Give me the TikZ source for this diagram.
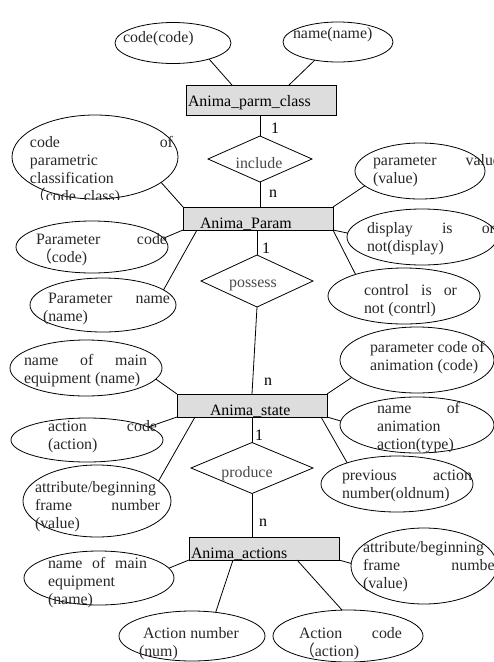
\documentclass[tikz,border=0pt]{standalone}
\usepackage{fontspec}
\setmainfont{Liberation Serif}
\newfontfamily\cjk{Noto Sans CJK SC}
\usetikzlibrary{shapes.geometric,calc}
\definecolor{boxgray}{RGB}{221,221,221}
\definecolor{txtgray}{RGB}{40,40,40}
\newcommand{\lns}[2]{\parbox[t]{#1pt}{#2}}
\begin{document}
\begin{tikzpicture}[x=1pt,y=-1pt,
  every node/.style={inner sep=0pt, outer sep=0pt},
  ell/.style={draw, ellipse, line width=0.8pt},
  ent/.style={draw, fill=boxgray, rectangle, line width=0.9pt, minimum width=150pt},
  rel/.style={draw, diamond, line width=0.8pt},
  txt/.style={anchor=base west, font=\fontsize{15.9pt}{18.3pt}\selectfont, text=txtgray},
  rtxt/.style={anchor=base, font=\fontsize{15.9pt}{18.3pt}\selectfont, text=txtgray!85},
  etxt/.style={anchor=base west, font=\fontsize{15.9pt}{18.3pt}\selectfont, text=black},
  card/.style={font=\fontsize{15.9pt}{18.3pt}\selectfont, text=black},
  conn/.style={line width=0.8pt}]
\useasboundingbox (0,0) rectangle (494,662);

% entities
\node[ent, minimum height=30pt] (b1) at (261,100) {};
\node[ent, minimum height=23pt] (b2) at (258,218.5) {};
\node[ent, minimum height=23pt] (b3) at (252,405.5) {};
\node[ent, minimum height=23pt] (b4) at (264,548.5) {};

% relationships
\node[rel, minimum width=104pt, minimum height=46pt] (d1) at (260,159) {};
\node[rel, minimum width=112pt, minimum height=52pt] (d2) at (257,281) {};
\node[rel, minimum width=122pt, minimum height=51pt] (d3) at (252,468) {};

% attributes
\node[ell, minimum width=116pt, minimum height=41pt] (e1) at (173,43) {};
\node[ell, minimum width=110pt, minimum height=40pt] (e2) at (338,42) {};
\node[ell, minimum width=166pt, minimum height=84pt] (e3) at (95,157) {};
\node[ell, minimum width=130pt, minimum height=56pt] (e4) at (420,171) {};
\node[ell, minimum width=152pt, minimum height=52pt] (e5) at (92,247) {};
\node[ell, minimum width=146pt, minimum height=54pt] (e6) at (103,305) {};
\node[ell, minimum width=150pt, minimum height=56pt] (e7) at (422,237) {};
\node[ell, minimum width=152pt, minimum height=56pt] (e8) at (404,296) {};
\node[ell, minimum width=152pt, minimum height=56pt] (e9) at (86,368) {};
\node[ell, minimum width=154pt, minimum height=66pt] (e10) at (417,360) {};
\node[ell, minimum width=152pt, minimum height=44pt] (e11) at (87,440) {};
\node[ell, minimum width=148pt, minimum height=72pt] (e12) at (97,501) {};
\node[ell, minimum width=154pt, minimum height=56pt] (e13) at (417,425) {};
\node[ell, minimum width=152pt, minimum height=56pt] (e14) at (397,484) {};
\node[ell, minimum width=150pt, minimum height=54pt] (e15) at (99,578) {};
\node[ell, minimum width=146pt, minimum height=76pt] (e16) at (424,566) {};
\node[ell, minimum width=146pt, minimum height=50pt] (e17) at (192,636) {};
\node[ell, minimum width=150pt, minimum height=52pt] (e18) at (348,636) {};

% connectors
\draw[conn] (e1.-24) -- ($(b1.north)+(-29,0)$);
\draw[conn] (e2.-142) -- ($(b1.north)+(28,0)$);
\draw[conn] (d1.north) -- (d1.north |- b1.south);
\draw[conn] (d1.south) -- (d1.south |- b2.north);
\draw[conn] (e3.-21) -- (b2.north west);
\draw[conn] (e4.-165) -- (b2.north east);
\draw[conn] (e5.7) -- (b2.south west);
\draw[conn] (e6.14) -- ($(b2.south west)+(14,0)$);
\draw[conn] (e7.177) -- (b2.south east);
\draw[conn] (e8.156) -- (b2.south east);
\draw[conn] (d2.north) -- (d2.north |- b2.south);
\draw[conn] (d2.south) -- (b3.north);
\draw[conn] (e9.-9) -- (b3.north west);
\draw[conn] (e10.-165) -- (b3.north east);
\draw[conn] (e11.12) -- (b3.south west);
\draw[conn] (e12.18) -- ($(b3.south west)+(18,0)$);
\draw[conn] (e13.177) -- (b3.south east);
\draw[conn] (e14.157) -- ($(b3.south east)+(-6,0)$);
\draw[conn] (d3.north) -- (d3.north |- b3.south);
\draw[conn] (d3.south) -- (d3.south |- b4.north);
\draw[conn] (e15.8) -- (b4.south west);
\draw[conn] (e16.178) -- (b4.south east);
\draw[conn] (e17.45) -- ($(b4.south west)+(44,0)$);
\draw[conn] (e18.103) -- ($(b4.south west)+(108,0)$);

% entity texts
\node[etxt] (tb1) at (188,106) {Anima\_parm\_class};
\node[etxt] (tb2) at (200,228) {Anima\_Param};
\node[etxt] (tb3) at (210,415) {Anima\_state};
\node[etxt] (tb4) at (191,558) {Anima\_actions};

% relationship texts
\node[rtxt] (td1) at (259,168) {include};
\node[rtxt] (td2) at (253,287) {possess};
\node[rtxt] (td3) at (247,477) {produce};

% cardinalities
\node[card] (c1) at (275,128) {1};
\node[card] (c2) at (273,194) {n};
\node[card] (c3) at (266,248) {1};
\node[card] (c4) at (268,382) {n};
\node[card] (c5) at (259,435) {1};
\node[card] (c6) at (263,523) {n};

% attribute texts
\node[txt] (t1) at (123,42) {code(code)};
\node[txt] (t2) at (293,38) {name(name)};
\begin{scope}
\clip (0,0) rectangle (200,199);
\node[txt] (t3) at (30,147) {\lns{143}{code\hfill of\\parametric\\classification\\{\cjk （}code\_class)}};
\end{scope}
\node[txt] (t4) at (373,165) {\lns{127}{parameter\hfill value\\(value)}};
\node[txt] (t5) at (36,244) {\lns{131}{Parameter\hfill code\\{\cjk （}code)}};
\node[txt] (t6) at (43,303) {\lns{127}{\hspace*{5pt}Parameter\hfill name\\(name)}};
\node[txt] (t7) at (367,233) {\lns{128}{display\hfill is\hfill or\\not(display)}};
\node[txt] (t8) at (364,295) {\lns{93}{control\hfill is\hfill or\\not (contrl)}};
\node[txt] (t9) at (24,365) {\lns{123}{name\hfill of\hfill main\\equipment (name)}};
\node[txt] (t10) at (370,352) {\lns{120}{parameter code of\\animation (code)}};
\node[txt] (t11) at (48,431) {\lns{109}{action\hfill code\\(action)}};
\node[txt] (t12) at (35,492) {\lns{125}{attribute/beginning\\frame\hfill number\\(value)}};
\node[txt] (t13) at (377,413) {\lns{83}{name\hfill of\\animation\\action(type)}};
\node[txt] (t14) at (342,480) {\lns{130}{previous\hfill action\\number(oldnum)}};
\node[txt] (t15) at (48,568) {\lns{99}{name\hfill of\hfill main\\equipment\\(name)}};
\node[txt] (t16) at (363,552) {\lns{137}{attribute/beginning\\frame\hfill number\\(value)}};
\node[txt] (t17) at (139,638) {\lns{110}{\hspace*{4pt}Action number\\(num)}};
\node[txt] (t18) at (299,638) {\lns{103}{Action\hfill code\\\hfil{\cjk （}action)}};
\end{tikzpicture}
\end{document}
